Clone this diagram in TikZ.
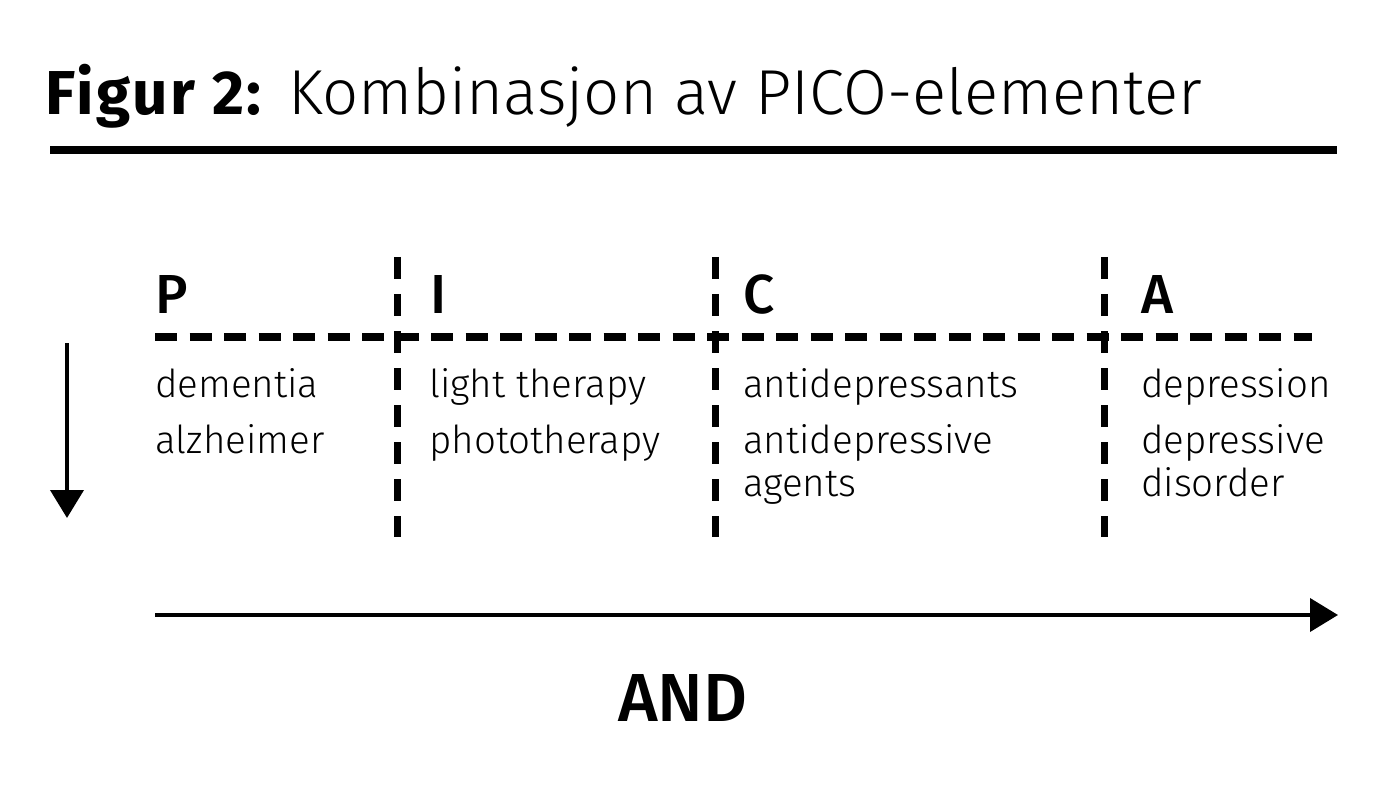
\documentclass[tikz,border=0pt]{standalone}
\usepackage{fontspec}
\setmainfont{Fira Sans}[UprightFont = * Light, BoldFont = * Bold]
\newfontfamily\headfont{Fira Sans}[UprightFont = * Medium, BoldFont = * SemiBold]
\newfontfamily\figfont{Fira Sans Bold}[LetterSpace=4]
\usetikzlibrary{arrows.meta}
\begin{document}
\begin{tikzpicture}[x=1pt,y=-1pt,
  titlebold/.style={anchor=base west,inner sep=0pt,font=\figfont\fontsize{62}{70}\selectfont},
  titletxt/.style={anchor=base west,inner sep=0pt,font=\fontsize{63.5}{70}\selectfont},
  headtxt/.style={anchor=base west,inner sep=0pt,font=\headfont\fontsize{55}{60}\selectfont},
  itemtxt/.style={anchor=base west,inner sep=0pt,font=\fontsize{38.5}{43}\selectfont},
  andtxt/.style={anchor=base,inner sep=0pt,font=\headfont\fontsize{68}{70}\selectfont},
  hdash/.style={line width=8pt,dash pattern=on 22pt off 12.5pt},
  vdash/.style={line width=7pt,dash pattern=on 22pt off 15pt},
  flow/.style={line width=4pt,-{Triangle[length=28pt,width=33pt]}}]
\useasboundingbox (0,0) rectangle (1400,786);
% title
\node[titlebold] (fig) at (45,115) {Figur 2:};
\node[titletxt] (title) at (288,115) {Kombinasjon av PICO-elementer};
\coordinate (r1) at (50,150);
\coordinate (r2) at (1337,150);
\draw[line width=8pt] (r1) -- (r2);
% headings
\node[headtxt] (P) at (155,313) {P};
\node[headtxt] (I) at (430,313) {I};
\node[headtxt] (C) at (743,313) {C};
\node[headtxt] (A) at (1141,313) {A};
% dashed grid
\coordinate (h1) at (155,337);
\coordinate (h2) at (1312,337);
\draw[hdash] (h1) -- (h2);
\foreach \x/\n in {397/v1,715/v2,1104/v3}{
  \coordinate (\n a) at (\x,257);
  \coordinate (\n b) at (\x,537);
  \draw[vdash] (\n a) -- (\n b);
}
% items
\node[itemtxt] (p1) at (155,397) {dementia};
\node[itemtxt] (p2) at (155,453) {alzheimer};
\node[itemtxt] (i1) at (429,397) {light therapy};
\node[itemtxt] (i2) at (429,453) {phototherapy};
\node[itemtxt] (c1) at (743,397) {antidepressants};
\node[itemtxt] (c2) at (743,453) {antidepressive};
\node[itemtxt] (c3) at (743,496) {agents};
\node[itemtxt] (a1) at (1141,397) {depression};
\node[itemtxt] (a2) at (1141,453) {depressive};
\node[itemtxt] (a3) at (1141,496) {disorder};
% arrows
\coordinate (d1) at (67,343);
\coordinate (d2) at (67,518);
\draw[flow] (d1) -- (d2);
\coordinate (f1) at (155,615);
\coordinate (f2) at (1338,615);
\draw[flow] (f1) -- (f2);
\node[andtxt] (and) at (683,721) {AND};
\end{tikzpicture}
\end{document}
